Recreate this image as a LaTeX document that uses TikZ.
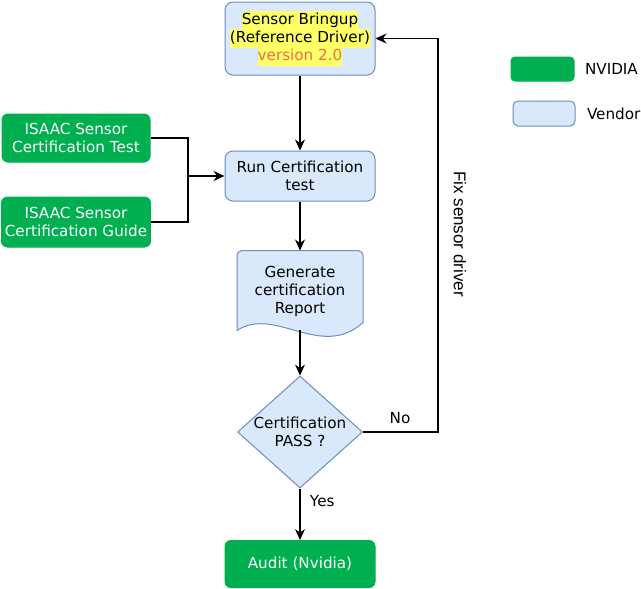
\documentclass[tikz,border=0pt]{standalone}
\usepackage{fontspec}
\setmainfont{DejaVu Sans}
\newfontfamily\arialfont{Liberation Sans}
\usetikzlibrary{positioning,shapes.geometric,arrows.meta}
\definecolor{nvgreen}{HTML}{00B050}
\definecolor{vendorfill}{HTML}{DAE8FC}
\definecolor{vendorline}{HTML}{6C8EBF}
\definecolor{hlyellow}{HTML}{FFFF66}
\definecolor{verorange}{HTML}{E8704F}
\newcommand{\hlline}[1]{{\setlength{\fboxsep}{0pt}\colorbox{hlyellow}{\strut#1}}}
\tikzset{nvbox/.style={
  shape=rectangle,
  rounded corners=6pt,
  draw=nvgreen,
  fill=nvgreen,
  text=white,
  minimum width=148pt,
  minimum height=48pt,
  align=center,
  },
  vendorbox/.style={
  shape=rectangle,
  rounded corners=8pt,
  draw=vendorline,
  fill=vendorfill,
  minimum width=150pt,
  align=center,
  },
  decision/.style={
  shape=diamond,
  draw=vendorline,
  fill=vendorfill,
  inner sep=0pt,
  minimum width=125pt,
  minimum height=112pt,
  },
  flow/.style={-{Stealth[length=11pt,width=10pt]}, line width=1.3pt},
  link/.style={line width=1.3pt},
  }

\begin{document}
\begin{tikzpicture}[x=1pt,y=1pt,font=\fontsize{15.2}{18}\selectfont,line width=1pt]
  \useasboundingbox (0,0) rectangle (641,-589);
  % main column
  \node[vendorbox, minimum height=73pt] (bringup) at (300,-38.5)
    {\hlline{Sensor Bringup}\\\hlline{(Reference Driver)}\\\hlline{\textcolor{verorange}{version 2.0}}};
  \node[vendorbox, minimum height=50pt] (run) at (300,-176) {Run Certification\\test};
  \node[minimum width=125pt, minimum height=84pt, align=center] (report) at (300,-293) {};
  \draw[draw=vendorline, fill=vendorfill]
    ([yshift=5pt]report.south west) .. controls +(38pt,25pt) and +(-42pt,-38pt) .. ([yshift=13pt]report.south east)
    [rounded corners=5pt] -- (report.north east) -- (report.north west) [sharp corners] -- cycle;
  \node[align=center] at ([yshift=2pt]report.center) {Generate\\certification\\Report};
  \node[decision, label={[align=center]center:Certification\\PASS ?}] (pass) at (300,-432) {};
  \node[nvbox, minimum width=150pt, minimum height=47pt] (audit) at (300,-564) {Audit (Nvidia)};

  % inputs
  \node[nvbox] (isaactest) at (76,-138) {ISAAC Sensor\\Certification Test};
  \node[nvbox, minimum height=50pt] (isaacguide) at (76,-222) {ISAAC Sensor\\Certification Guide};
  \coordinate (merge) at (188,-176);

  % legend
  \node[nvbox, rounded corners=4pt, minimum width=63pt, minimum height=24pt] (legnv) at (542.5,-69) {};
  \node[right=8pt of legnv, inner sep=2pt] (legnvtext) {NVIDIA};
  \node[vendorbox, rounded corners=5pt, minimum width=62pt, minimum height=25pt] (legvendor) at (544,-113.5) {};
  \node[right=9pt of legvendor, inner sep=2pt] (legvendortext) {Vendor};

  % connectors
  \draw[link] (isaactest.east) -| (merge);
  \draw[link] (isaacguide.east) -| (merge);
  \draw[flow] (merge) -- (merge -| run.west);
  \draw[flow] (bringup.south) -- (run.north);
  \draw[flow] (run.south) -- (report.north);
  \draw[flow] ([yshift=6pt]report.south) -- (pass.north);
  \draw[flow] (pass.south) -- node[right=6pt, pos=0.25] {Yes} (audit.north);
  \coordinate (fixtop) at (438,-38.5);
  \draw[flow] (pass.east) -| (fixtop) -- (bringup.east);
  \node at (400,-418) {No};
  \node[rotate=-90, font=\arialfont\fontsize{17}{18}\selectfont] at (460,-234) {Fix sensor driver};
\end{tikzpicture}
\end{document}
